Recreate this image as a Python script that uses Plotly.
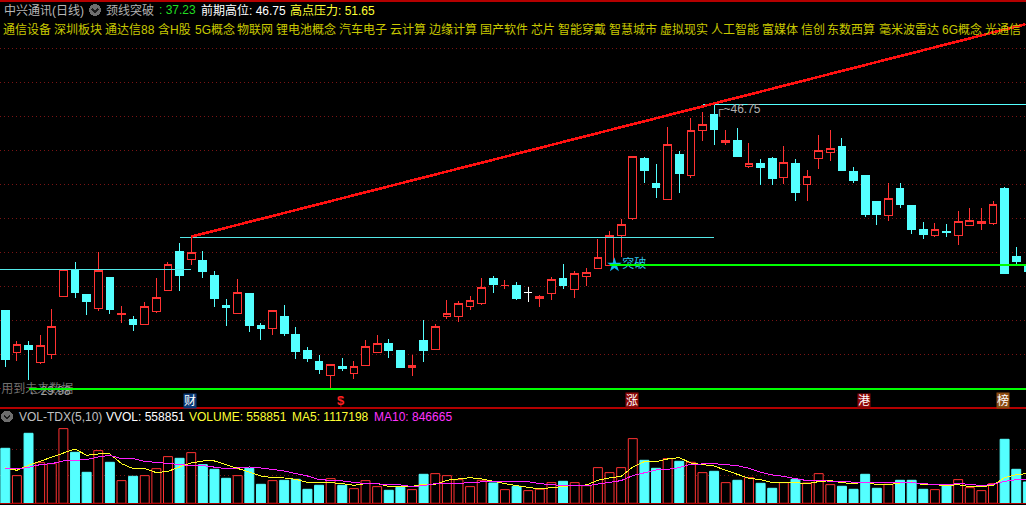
import plotly.graph_objects as go

W, H = 1026, 505
UP = "#FF3232"
DOWN = "#54FFFF"
BG = "#000000"
GRID = "#7a1414"
BORDER = "#B40000"

opens = [34.55,32.10,32.49,31.51,31.98,35.39,36.98,35.49,34.69,36.49,34.33,34.02,33.75,34.51,35.75,38.02,37.57,37.49,36.61,34.90,34.39,35.55,33.67,33.51,34.25,33.14,32.20,31.55,30.75,31.31,30.86,31.33,32.10,32.61,32.20,31.24,32.84,32.27,34.22,34.22,34.80,34.98,36.43,36.02,36.02,35.65,35.27,35.57,36.43,35.80,36.57,37.04,37.22,38.98,39.98,43.49,42.02,41.10,43.73,42.51,45.16,46.08,44.45,44.55,43.02,43.25,43.49,42.39,43.20,41.98,43.51,43.86,44.25,42.78,42.49,40.96,40.16,41.78,40.73,39.37,38.98,39.20,38.98,39.57,39.69,39.69,41.78,37.78,37.31]
highs = [34.55,32.78,32.78,33.14,34.67,37.00,37.43,35.55,38.00,36.49,34.84,34.25,35.08,36.49,37.43,38.55,38.92,38.08,36.90,35.25,36.43,35.55,33.84,34.55,34.90,33.61,32.43,31.96,31.41,31.78,31.61,32.84,33.14,32.90,32.20,31.96,34.02,33.78,35.20,35.14,35.43,36.49,36.61,36.37,36.25,35.96,35.49,36.55,37.31,36.90,37.08,38.78,39.25,39.96,43.67,43.61,43.20,45.37,43.96,45.90,46.25,46.75,45.20,45.31,44.43,43.49,43.61,44.25,43.49,42.84,44.90,45.20,44.73,43.02,42.55,40.96,42.08,42.08,40.73,39.78,39.73,39.67,40.43,40.61,40.61,41.02,41.84,38.31,37.31]
lows = [31.25,31.63,30.49,31.43,31.73,35.39,35.31,34.31,34.55,34.37,33.84,33.37,33.75,34.43,35.75,35.73,37.25,36.49,34.78,33.67,34.39,33.31,32.84,33.14,33.08,31.73,31.55,30.84,30.02,31.02,30.55,31.33,32.10,31.78,31.20,30.73,31.55,32.27,34.08,33.90,34.61,34.90,35.61,35.84,35.20,35.08,34.78,35.20,35.84,35.31,36.02,37.04,37.22,37.73,39.90,42.08,41.20,41.10,41.49,42.37,44.55,44.31,44.31,43.61,42.96,41.96,41.96,42.02,41.02,41.02,42.90,43.37,42.78,42.08,40.08,39.61,39.84,40.61,39.08,38.78,38.90,38.90,38.43,39.57,39.31,39.61,36.78,37.31,36.90]
closes = [31.67,32.59,32.31,32.53,33.65,37.00,35.61,35.08,36.94,34.61,34.41,33.73,34.82,35.35,37.29,36.61,38.00,36.90,35.31,34.73,35.65,33.67,33.49,34.55,33.20,32.14,31.73,31.08,31.41,31.14,31.29,32.47,32.65,32.20,31.25,31.35,32.20,33.65,34.41,35.00,35.18,35.94,36.08,36.06,35.31,35.65,35.41,36.41,36.02,36.76,36.82,37.71,39.00,39.65,43.65,42.84,41.84,44.35,42.61,45.18,45.53,45.25,44.59,43.61,43.24,42.96,42.37,43.29,41.49,42.47,44.00,44.12,42.84,42.20,40.20,40.20,41.18,40.84,39.37,39.02,39.35,39.14,39.82,39.88,39.82,40.82,36.78,37.43,36.90]

# volume in units of 10,000
volume = [206.25,103.75,262.5,152.5,148.75,280,191.25,116.25,197.5,153.75,85,101.25,103.75,130,175,168.75,190,145,127.5,93.75,103.75,131.25,71.25,85,86.25,90,52.5,67.5,92.5,67.5,55,85,62.5,48.75,60,51.25,108.75,111.25,103.75,88.75,62.5,86.25,76.25,51.25,63.75,47.5,52.5,77.5,82.5,77.5,66.25,133.75,115,133.75,242.5,161.25,131.25,167.5,157.5,153.75,115,120,77.5,86.25,96.25,75,56.25,77.5,90,76.25,111.25,70,63.75,52.5,108.75,56.25,71.25,86.25,86.25,52.5,51.25,67.5,88.75,58.75,47.5,73.75,240,127.5,80]
ma5 = [132.5,123.75,142.5,157.5,171.25,186.25,203.75,180,185,185,148.75,130,130,115,120,136.25,151.25,158.75,158.75,145,131.25,116.25,102.5,96.25,95,90,78.75,77.5,77.5,73.75,67.5,73.75,73.75,63.75,62.5,63.75,71.25,71.25,86.25,91.25,96.25,91.25,81.25,73.75,66.25,61.25,53.75,58.75,63.75,67.5,68.75,86.25,95,101.25,136.25,156.25,156.25,166.25,171.25,151.25,145,140,123.75,108.75,93.75,88.75,77.5,77.5,77.5,73.75,81.25,85,77.5,73.75,80,70,70,76.25,80,70,70,66.25,70,62.5,62.5,67.5,96.25,107.5,111.25]
ma10 = [130,128.75,135,145,148.75,158.75,161.25,163.75,173.75,180,167.5,167.5,157.5,153.75,148.75,143.75,141.25,141.25,136.25,130,132.5,136.25,132.5,127.5,121.25,111.25,102.5,88.75,87.5,83.75,78.75,73.75,73.75,68.75,68.75,62.5,66.25,73.75,73.75,73.75,78.75,81.25,81.25,81.25,81.25,81.25,73.75,68.75,66.25,66.25,65,72.5,77.5,85,103.75,113.75,125,127.5,133.75,146.25,148.75,148.75,145,141.25,131.25,116.25,106.25,101.25,92.5,85,85,82.5,81.25,77.5,77.5,77.5,77.5,77.5,77.5,73.75,70,70,73.75,71.25,66.25,71.25,82.5,88.75,88.75]
days = list(range(len(opens)))

trend_x = [16, 87.8]
trend_y = [38.92, 51.42]
peak_level = 46.70
peak_x = [60, 88]
neck_level = 37.25
neck_x = [52, 88]
low_level = 29.96
low_x = [2, 88]
prior_high = 38.87
prior_high_x = [15, 61]
prior_low = 36.99
prior_low_x = [-1, 16]
price_grid = [30, 32, 34, 36, 38, 40, 42, 44, 46, 48, 50]
vol_grid = [103.75, 201.25]

tags = [("通信设备",2),("深圳板块",53),("通达信88",104),("含H股",157),("5G概念",194),("物联网",236),("锂电池概念",275),("汽车电子",338),("云计算",389),("边缘计算",428),("国产软件",479),("芯片",530),("智能穿戴",557),("智慧城市",608),("虚拟现实",659),("人工智能",710),("富媒体",761),("信创",800),("东数西算",826),("毫米波雷达",878),("6G概念",941),("光通信",984)]
head = [("中兴通讯(日线)",3,"#b8b8b8"),("颈线突破",105,"#b0b0b0"),(": 37.23",158,"#22dd22"),("前期高位: 46.75",200,"#ffffff"),("高点压力: 51.65",289,"#ffff33")]
subhead = [("VOL-TDX(5,10)",18,"#c0c0c0"),("VVOL: 558851",105,"#ffffff"),("VOLUME: 558851",188,"#ffff33"),("MA5: 1117198",291,"#ffff33"),("MA10: 846665",373,"#ff33ff")]
events = [("财",190,"#0a3a78"),("涨",632,"#8c0808"),("港",864,"#8c0808"),("榜",1003,"#8a4a10")]

FONT = "Liberation Sans, Noto Sans CJK SC, sans-serif"
pitch, x0 = 11.62, 5.3
py = lambda y: 1 - y / H
px = lambda x: x / W

is_doji = [o == c for o, c in zip(opens, closes)]
def pick(vals, doji):
    return [v if d == doji else None for v, d in zip(vals, is_doji)]

fig = go.Figure()
for doji, up, down in [(False, UP, DOWN), (True, "#ffffff", "#ffffff")]:
    fig.add_trace(go.Candlestick(
        x=days, open=pick(opens, doji), high=pick(highs, doji), low=pick(lows, doji), close=pick(closes, doji),
        xaxis="x", yaxis="y", whiskerwidth=0,
        increasing=dict(line=dict(color=up, width=1), fillcolor=BG),
        decreasing=dict(line=dict(color=down, width=1), fillcolor=down),
        showlegend=False, hoverinfo="skip"))

fig.add_trace(go.Scatter(x=[-0.35], y=[29.88], mode="text", text=["用到未来数据"], textposition="middle right",
                         textfont=dict(color="#707070", size=12, family=FONT), showlegend=False))
fig.add_trace(go.Scatter(x=[2.0], y=[29.78], mode="text", text=["←29.98"], textposition="middle right",
                         textfont=dict(color="#a0a0a0", size=12, family=FONT), showlegend=False))
fig.add_trace(go.Scatter(x=[52.42], y=[neck_level], mode="markers+text", text=["突破"], textposition="middle right",
                         marker=dict(symbol="star", size=11, color="#10b8f0"),
                         textfont=dict(color="#30c8f0", size=12, family=FONT), showlegend=False))

for xs, ys, color, width in [
    (prior_low_x, [prior_low] * 2, "#54e8e8", 1),
    (prior_high_x, [prior_high] * 2, "#54e8e8", 1),
    (peak_x, [peak_level] * 2, "#54FFFF", 1),
    (trend_x, trend_y, "#FF1010", 2.6),
    (neck_x, [neck_level] * 2, "#00FF00", 2),
    (low_x, [low_level] * 2, "#00FF00", 2),
]:
    fig.add_trace(go.Scatter(x=xs, y=ys, mode="lines", line=dict(color=color, width=width), showlegend=False, hoverinfo="skip"))

bar_up = [c >= o for o, c in zip(opens, closes)]
fig.add_trace(go.Bar(x=days, y=volume, xaxis="x", yaxis="y2", width=0.77,
                     marker=dict(color=[BG if u else DOWN for u in bar_up],
                                 line=dict(color=[UP if u else DOWN for u in bar_up], width=1)),
                     showlegend=False, hoverinfo="skip"))
fig.add_trace(go.Scatter(x=days, y=ma5, xaxis="x", yaxis="y2", mode="lines", line=dict(color="#FFFF20", width=1), showlegend=False))
fig.add_trace(go.Scatter(x=days, y=ma10, xaxis="x", yaxis="y2", mode="lines", line=dict(color="#FF20FF", width=1), showlegend=False))

ann = []
def label(text, x, y, color, size=12, **kw):
    ann.append(dict(text=text, x=px(x), y=py(y), xref="paper", yref="paper", xanchor="left", yanchor="middle",
                    showarrow=False, font=dict(color=color, size=size, family=FONT), borderpad=0, **kw))
for t, x, c in head:
    label(t, x, 10, c)
for t, x in tags:
    label(t, x, 29.5, "#c8c800")
for t, x, c in subhead:
    label(t, x, 416.5, c)
label("┌~46.75", 714, 109.5, "#b0b0b0")
for t, x, c in events:
    ann.append(dict(text=t, x=px(x), y=py(400.5), xref="paper", yref="paper", xanchor="center", yanchor="middle",
                    showarrow=False, font=dict(color="#ffffff", size=12, family=FONT), bgcolor=c, borderpad=0))
ann.append(dict(text="<b>$</b>", x=px(340.5), y=py(400), xref="paper", yref="paper", xanchor="center", yanchor="middle",
                showarrow=False, font=dict(color="#ff2020", size=13, family=FONT)))

shapes = [dict(type="line", xref="x", yref="y", x0=trend_x[0], x1=trend_x[1], y0=trend_y[0], y1=trend_y[1],
               line=dict(color="#FF1010", width=2.6), layer="above")]
for y, w in [(0.8, 2), (408, 1.2), (503.8, 1.2)]:
    shapes.append(dict(type="line", xref="paper", yref="paper", x0=0, x1=1, y0=py(y), y1=py(y), line=dict(color=BORDER, width=w), layer="above"))
for cx, cy in [(95, 10), (7, 416.5)]:
    shapes.append(dict(type="circle", xref="paper", yref="paper", x0=px(cx - 6), x1=px(cx + 6), y0=py(cy - 6), y1=py(cy + 6),
                       fillcolor="#6e6e6e", line=dict(width=0), layer="above"))
    shapes.append(dict(type="path", xref="paper", yref="paper",
                       path=f"M {px(cx-3)} {py(cy-1)} L {px(cx)} {py(cy+2)} L {px(cx+3)} {py(cy-1)}",
                       line=dict(color="#1c1c1c", width=1.5), layer="above"))

hidden = dict(showticklabels=False, ticks="", zeroline=False, showline=False)
fig.update_layout(
    width=W, height=H, autosize=False, margin=dict(l=0, r=0, t=0, b=0),
    paper_bgcolor=BG, plot_bgcolor=BG, showlegend=False, hovermode=False, barmode="overlay", boxgap=0.05,
    font=dict(family=FONT),
    xaxis=dict(range=[-x0 / pitch, (W - x0) / pitch], domain=[0, 1], showgrid=False, rangeslider=dict(visible=False), anchor="y2", **hidden),
    yaxis=dict(domain=[py(408), py(3)], range=[30 + (388.3 - 408) / 17, 30 + (388.3 - 3) / 17],
               tickmode="array", tickvals=price_grid, showgrid=True, gridcolor=GRID, griddash="1px,3px", gridwidth=1, **hidden),
    yaxis2=dict(domain=[py(503.3), py(408)], range=[0, (503.3 - 408) * 3.75],
                tickmode="array", tickvals=vol_grid, showgrid=True, gridcolor=GRID, griddash="1px,3px", gridwidth=1, **hidden),
    annotations=ann, shapes=shapes,
)
assert all(len(a) == len(opens) for a in [highs, lows, closes, volume, ma5, ma10])
page_reset = (
    "document.documentElement.style.background='#000';document.body.style.margin='0';"
    "document.body.style.padding='0';document.body.style.overflow='hidden';"
    "document.querySelectorAll('.boxlayer path,.scatterlayer .js-line,.gridlayer path,.shapelayer path').forEach(function(p){p.style.shapeRendering='crispEdges';});"
)
fig.write_html("out.html", config=dict(displayModeBar=False), post_script=page_reset)
